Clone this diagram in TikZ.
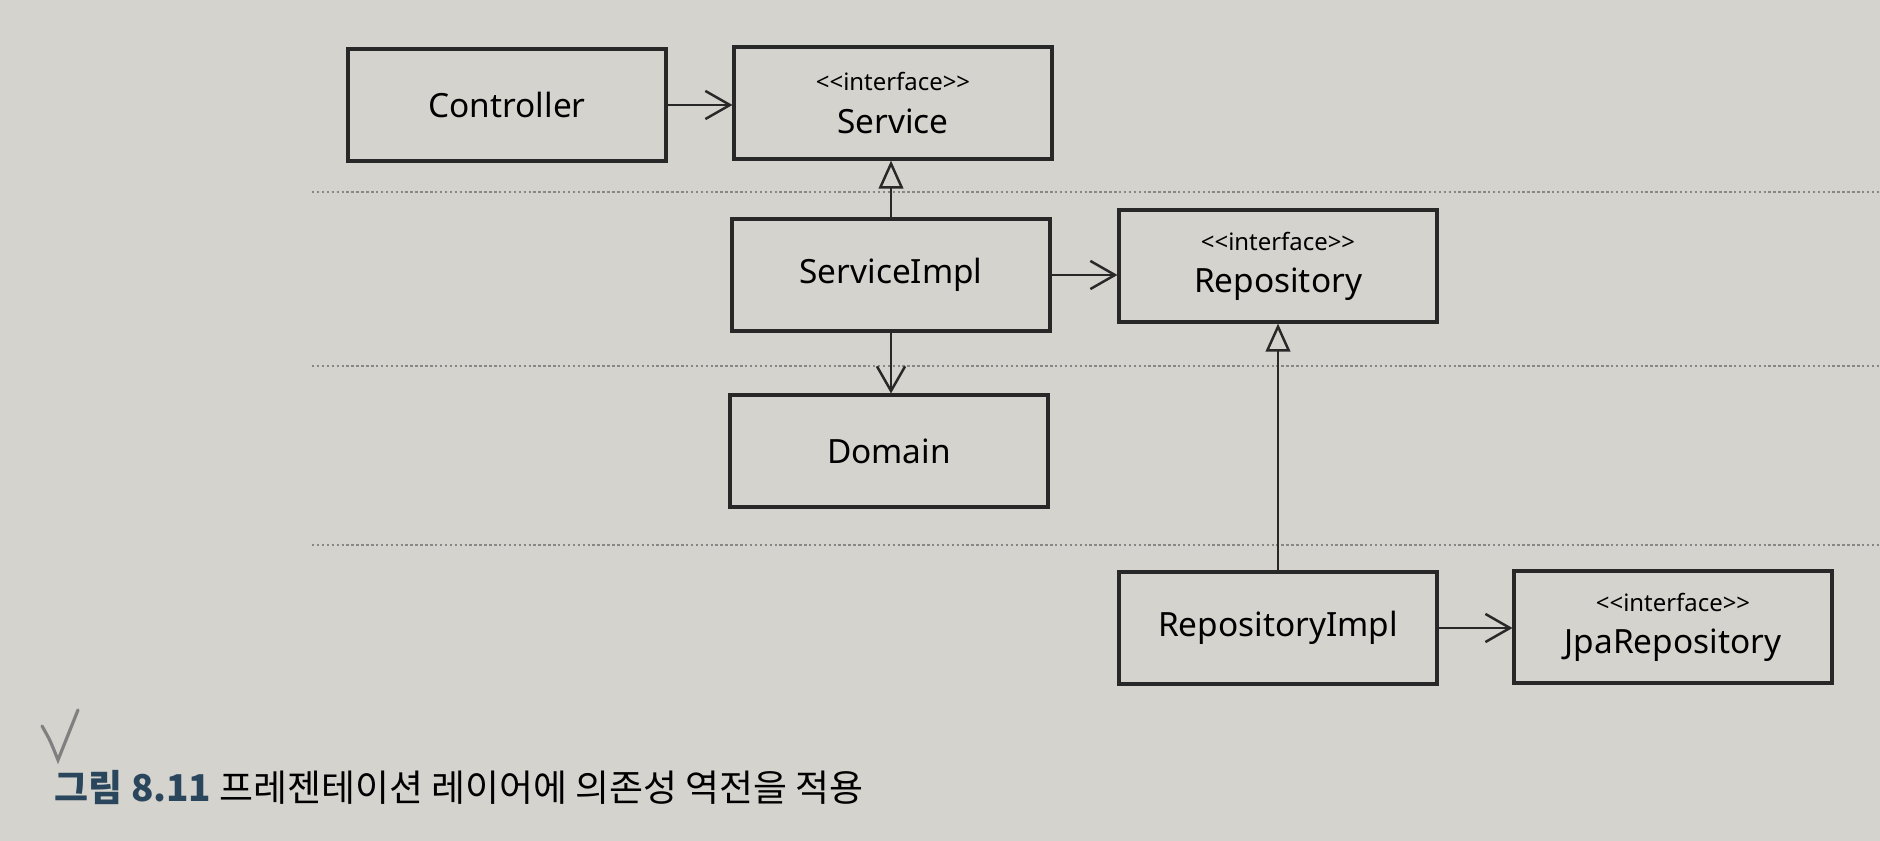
\documentclass[tikz,border=0pt]{standalone}
\usepackage{fontspec}
\setmainfont{Noto Sans}
\newfontfamily\krfont{Noto Sans CJK KR}
\usepackage{xcolor}
\usepackage{tikz}
\usetikzlibrary{arrows.meta,calc}

\definecolor{paper}{RGB}{213,211,206}
\definecolor{ink}{RGB}{40,40,40}
\definecolor{layerline}{RGB}{135,135,133}
\definecolor{figblue}{RGB}{42,70,92}

\tikzset{
  umlbox/.style={draw=ink, line width=0.9pt, minimum width=3.18cm, minimum height=1.12cm,
    align=center, inner sep=2pt},
  uses/.style={draw=ink, line width=0.7pt, -{Straight Barb[length=7pt,width=8pt,line width=0.7pt]}},
  realizes/.style={draw=ink, line width=0.7pt, -{Triangle[open,length=8pt,width=7pt,fill=paper,line width=0.7pt]}},
  layer/.style={draw=layerline, line width=0.8pt, dash pattern=on 0.7pt off 0.7pt}
}

\newcommand{\ifacename}[1]{{\fontsize{6.8pt}{8pt}\selectfont <\kern0pt<interface>\kern0pt>}\\[1pt] #1}

\begin{document}
\begin{tikzpicture}[font=\fontsize{9.5pt}{11pt}\selectfont]
    \fill[paper] (0,0) rectangle (18.8,-8.41);
    \useasboundingbox (0,0) rectangle (18.8,-8.41);

    \foreach \y in {-1.92,-3.66,-5.45} {
      \draw[layer] (3.12,\y) -- (18.8,\y);
    }

    \node[umlbox] (ctrl) at (5.07,-1.05) {Controller};
    \node[umlbox] (svc) at (8.93,-1.03) {\ifacename{Service}};
    \node[umlbox] (svcimpl) at (8.91,-2.75) {ServiceImpl};
    \node[umlbox] (repo) at (12.78,-2.66) {\ifacename{Repository}};
    \node[umlbox] (domain) at (8.89,-4.51) {Domain};
    \node[umlbox] (repoimpl) at (12.78,-6.28) {RepositoryImpl};
    \node[umlbox] (jpa) at (16.73,-6.27) {\ifacename{JpaRepository}};

    \draw[uses] (ctrl.east) -- (ctrl.east -| svc.west);
    \draw[realizes] (svcimpl.north) -- (svcimpl.north |- svc.south);
    \draw[uses] (svcimpl.east) -- (svcimpl.east -| repo.west);
    \draw[uses] (svcimpl.south) -- (svcimpl.south |- domain.north);
    \draw[realizes] (repoimpl.north) -- (repoimpl.north |- repo.south);
    \draw[uses] (repoimpl.east) -- (repoimpl.east -| jpa.west);

    \draw[gray, line width=0.9pt, line cap=round] (0.42,-7.26) .. controls (0.5,-7.4) .. (0.58,-7.6) -- (0.78,-7.1);

    \node[anchor=west, inner sep=0pt] (caption) at (0.54,-7.88)
      {\krfont\fontsize{10.5pt}{12pt}\selectfont\textcolor{figblue}{\bfseries 그림 8.11} 프레젠테이션 레이어에 의존성 역전을 적용};
  \end{tikzpicture}
\end{document}
